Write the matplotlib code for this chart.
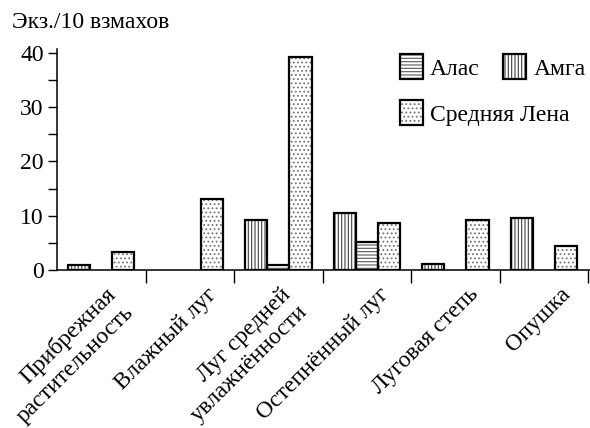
import matplotlib.pyplot as plt
from matplotlib.patches import Patch
from matplotlib.ticker import FixedLocator
from matplotlib.transforms import blended_transform_factory

# Habitat types along the x axis
habitats = [
    "Прибрежная\nрастительность",
    "Влажный луг",
    "Луг средней\nувлажнённости",
    "Остепнённый луг",
    "Луговая степь",
    "Опушка",
]

# Catch per 10 sweeps for each locality (None = not sampled / nothing caught)
amga = [1.0, None, 9.3, 10.5, 1.1, 9.6]
alas = [None, None, 1.0, 5.2, None, None]
sred_lena = [3.3, 13.0, 39.2, 8.7, 9.3, 4.4]

yticks = [0, 10, 20, 30, 40]
ytick_minor = [5, 15, 25, 35]

# Per-series drawing style: label, bar offset within group, hatch, hatch colour
SERIES = [
    ("Амга", amga, -0.25, "|||||", "0.25"),
    ("Алас", alas, 0.0, "-----", "0.35"),
    ("Средняя Лена", sred_lena, 0.25, "....", "0.45"),
]
BAR_W = 0.25
EDGE_LW = 1.6
FS = 17

# nudges (x, data units) for the rotated habitat labels
LABEL_DX = [0.04, 0.19, 0.02, 0.13, 0.145, 0.18]

plt.rcParams.update({
    "font.family": "Liberation Serif",
    "font.size": FS,
    "hatch.linewidth": 0.8,
})

fig = plt.figure(figsize=(5.9, 4.28), dpi=100)
ax = fig.add_axes([57 / 590, 158 / 428, 1 - 57 / 590, (270 - 49) / 428])

handles = {}
for name, vals, dx, hatch, hcol in SERIES:
    xs = [i + dx for i, v in enumerate(vals) if v is not None]
    ys = [v for v in vals if v is not None]
    # hatch layer (edge colour drives the hatch colour), then a black outline
    ax.bar(xs, ys, BAR_W, color="white", edgecolor=hcol, hatch=hatch,
           linewidth=0, zorder=2)
    ax.bar(xs, ys, BAR_W, fill=False, edgecolor="black",
           linewidth=EDGE_LW, zorder=3)
    handles[name] = (
        Patch(facecolor="white", edgecolor=hcol, hatch=hatch, linewidth=0),
        Patch(fill=False, edgecolor="black", linewidth=EDGE_LW),
    )

ax.set_xlim(-0.5, 5.52)
ax.set_ylim(0, 40.7)

for side in ("top", "right"):
    ax.spines[side].set_visible(False)
for side in ("left", "bottom"):
    ax.spines[side].set_linewidth(1.1)

ax.set_yticks(yticks)
ax.yaxis.set_minor_locator(FixedLocator(ytick_minor))
ax.tick_params(axis="y", which="both", direction="out", length=6.5,
               width=1.0, pad=3, labelsize=FS)

# group separators below the x axis; no ticks at the group centres
ax.set_xticks([])
ax.xaxis.set_minor_locator(FixedLocator([i + 0.5 for i in range(len(habitats))]))
ax.tick_params(axis="x", which="minor", direction="out", length=9, width=1.0)

trans = blended_transform_factory(ax.transData, ax.transAxes)
for i, (lab, dx) in enumerate(zip(habitats, LABEL_DX)):
    ax.text(i + dx, -0.062, lab, transform=trans, rotation=45,
            rotation_mode="anchor", ha="right", va="top", fontsize=FS)

leg_kw = dict(frameon=False, fontsize=FS, handlelength=0.97,
              handleheight=1.27, handletextpad=0.3, borderpad=0,
              borderaxespad=0)
leg1 = fig.legend([handles["Алас"], handles["Амга"]], ["Алас", "Амга"],
                  ncol=2, columnspacing=1.0, loc="upper left",
                  bbox_to_anchor=(400 / 590, 1 - 54 / 428), **leg_kw)
leg2 = fig.legend([handles["Средняя Лена"]], ["Средняя Лена"],
                  loc="upper left", bbox_to_anchor=(400 / 590, 1 - 100 / 428),
                  **leg_kw)

fig.text(12 / 590, 1 - 23 / 428, "Экз./10 взмахов", fontsize=FS,
         va="center", ha="left")

fig.savefig("out.png", dpi=100)
